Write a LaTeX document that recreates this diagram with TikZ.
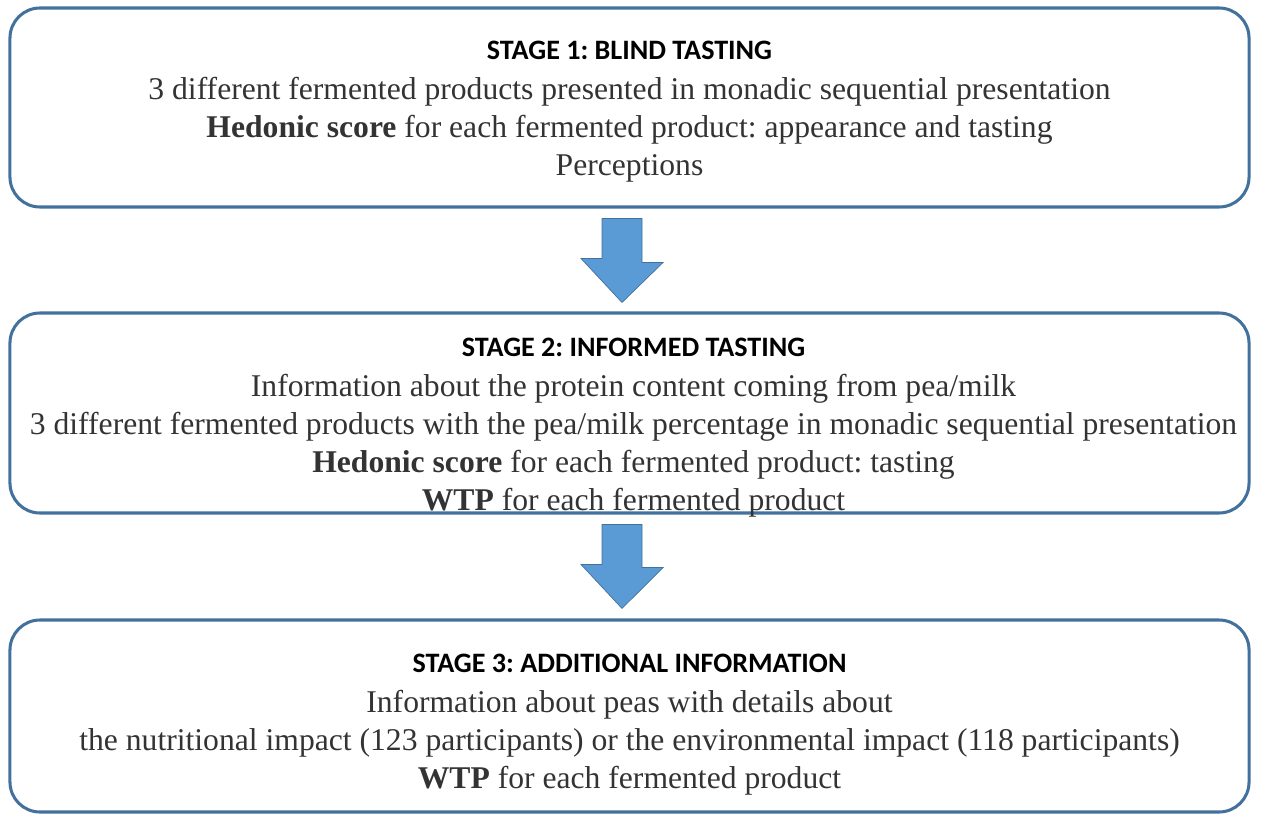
\documentclass[tikz,border=0pt]{standalone}
\usepackage{fontspec}
\setmainfont{Liberation Serif}
\newfontfamily\titlefont{Carlito}
\usetikzlibrary{positioning,calc}
\definecolor{boxline}{HTML}{41719C}
\definecolor{arrowfill}{HTML}{5B9BD5}
\definecolor{bodytext}{HTML}{333333}
\frenchspacing
\tikzset{
  stagebox/.style={draw=boxline, line width=2.6pt, rounded corners=0.9cm, minimum width=37.17cm},
  stagetext/.style={align=center, text=bodytext, inner sep=0pt, font=\fontsize{27}{32.4}\selectfont},
  downarrow/.style={fill=arrowfill, draw=boxline, line width=0.6pt, line join=miter}
}
\newcommand{\stagetitle}[1]{{\titlefont\bfseries\color{black}\fontsize{24}{32.4}\selectfont #1}}

\begin{document}
\begin{tikzpicture}[x=0.03cm, y=-0.03cm]
    \useasboundingbox (0,0) rectangle (1267,816);
    % stage frames
    \node[stagebox, minimum height=5.97cm] (box1) at (629.5,107.5) {};
    \node[stagebox, minimum height=6cm] (box2) at (629.5,413) {};
    \node[stagebox, minimum height=5.76cm] (box3) at (629.5,716) {};
    % stage texts
    \node[stagetext] (text1) at (629.5,111.5) {\stagetitle{STAGE 1: BLIND TASTING}\\[2pt]
        3 different fermented products presented in monadic sequential presentation\\
        \textbf{Hedonic score} for each fermented product: appearance and tasting\\
        Perceptions};
    \node[stagetext] (text2) at (633.5,427.5) {\stagetitle{STAGE 2: INFORMED TASTING}\\[2pt]
        Information about the protein content coming from pea/milk\\
        3 different fermented products with the pea/milk percentage in monadic sequential presentation\\
        \textbf{Hedonic score} for each fermented product: tasting\\
        \textbf{WTP} for each fermented product};
    \node[stagetext] (text3) at (629.5,724.5) {\stagetitle{STAGE 3: ADDITIONAL INFORMATION}\\[2pt]
        Information about peas with details about\\
        the nutritional impact (123 participants) or the environmental impact (118 participants)\\
        \textbf{WTP} for each fermented product};
    % block arrows between stages
    \filldraw[downarrow] ($(box1.south)+(-27.5,10)$) -- ++(40,0) -- ++(0,44) -- ++(21,0)
        -- ($(box2.north)+(-7.5,-9)$) -- ++(-41,-44) -- ++(21,0) -- cycle;
    \filldraw[downarrow] ($(box2.south)+(-27.5,10)$) -- ++(40,0) -- ++(0,43) -- ++(21,0)
        -- ($(box3.north)+(-7.5,-10)$) -- ++(-41,-44) -- ++(21,0) -- cycle;
\end{tikzpicture}
\end{document}
